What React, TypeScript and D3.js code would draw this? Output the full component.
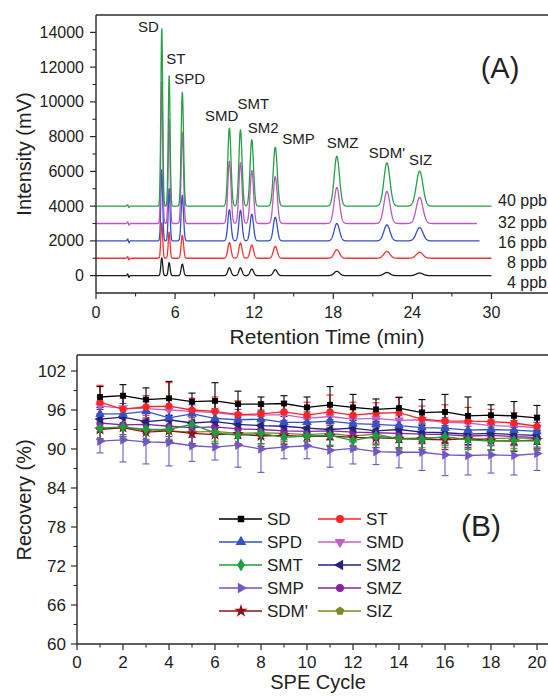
import React from 'react';
import * as d3 from 'd3';

const W = 548;
const H = 696;
const FONT = "'Liberation Sans', Arial, Helvetica, sans-serif";

// ---------- Panel A data (chromatograms) ----------
const peakNames = ['SD', 'ST', 'SPD', 'SMD', 'SMT', 'SM2', 'SMP', 'SMZ', "SDM'", 'SIZ'];
const retentionTimes = [4.99, 5.55, 6.55, 10.12, 10.96, 11.82, 13.6, 18.27, 22.07, 24.55];
const peakSigma = [0.07, 0.07, 0.09, 0.12, 0.12, 0.13, 0.15, 0.2, 0.23, 0.25];
const concLabels = ['4 ppb', '8 ppb', '16 ppb', '32 ppb', '40 ppb'];
const baselineOffsets = [0, 1000, 2000, 3000, 4000];
const traceEnds = [30, 30, 29.1, 28.9, 30];
const heights4 = [1020, 750, 660, 450, 440, 380, 340, 250, 180, 150];
const heights8 = [2040, 1500, 1310, 900, 880, 760, 680, 490, 390, 345];
const heights16 = [4080, 3000, 2620, 1790, 1760, 1530, 1360, 1000, 920, 770];
const heights32 = [8150, 6000, 5250, 3580, 3500, 3050, 2700, 2070, 1840, 1500];
const heights40 = [10200, 7500, 6550, 4480, 4390, 3820, 3390, 2870, 2490, 2010];
const disturbanceTime = 2.45;
const disturbanceAmp = [160, 150, 170, 150, 120];
const xTicksA = [0, 6, 12, 18, 24, 30];
const yTicksA = [0, 2000, 4000, 6000, 8000, 10000, 12000, 14000];

// ---------- Panel B data (recovery vs SPE cycle) ----------
const cycles = [1, 2, 3, 4, 5, 6, 7, 8, 9, 10, 11, 12, 13, 14, 15, 16, 17, 18, 19, 20];
const seriesNames = ['SD', 'ST', 'SPD', 'SMD', 'SMT', 'SM2', 'SMP', 'SMZ', "SDM'", 'SIZ'];
const SD = [98.0, 98.2, 97.6, 97.8, 97.3, 97.4, 96.9, 96.9, 97.0, 96.4, 96.8, 96.4, 96.1, 96.3, 95.6, 95.7, 95.1, 95.2, 95.1, 94.8];
const SD_err = [1.6, 1.7, 1.8, 2.6, 1.3, 2.8, 2.0, 1.1, 1.2, 1.6, 2.8, 2.0, 1.6, 1.6, 2.0, 2.7, 2.9, 1.6, 2.2, 1.9];
const ST = [97.2, 96.1, 96.5, 96.6, 96.0, 95.8, 95.3, 95.4, 95.7, 95.2, 95.7, 95.2, 95.5, 95.6, 94.6, 94.3, 94.3, 94.2, 94.0, 93.5];
const ST_err = [2.6, 2.1, 1.7, 3.6, 1.8, 2.2, 2.1, 1.8, 1.6, 2.0, 2.6, 2.0, 1.6, 2.4, 2.0, 2.5, 2.1, 1.9, 1.6, 1.7];
const SPD = [95.4, 95.4, 95.8, 94.8, 95.4, 94.7, 94.5, 94.6, 94.1, 94.1, 94.3, 93.9, 93.8, 93.6, 93.3, 93.2, 92.9, 93.0, 92.9, 92.7];
const SPD_err = [1.6, 1.6, 1.5, 1.7, 1.4, 1.5, 1.6, 1.4, 1.5, 1.6, 1.5, 1.4, 1.6, 1.5, 1.4, 1.6, 1.5, 1.4, 1.5, 1.4];
const SMD = [96.6, 96.3, 96.2, 96.0, 95.8, 95.6, 95.2, 95.2, 95.3, 94.7, 95.0, 94.6, 94.7, 94.4, 94.5, 94.1, 94.0, 93.6, 93.5, 93.3];
const SMD_err = [1.4, 1.5, 1.6, 1.8, 1.4, 1.6, 1.5, 1.4, 1.6, 1.5, 1.7, 1.5, 1.4, 1.6, 1.5, 1.6, 1.4, 1.5, 1.6, 1.4];
const SMT = [93.2, 93.4, 93.0, 93.0, 93.8, 92.5, 92.1, 92.4, 91.8, 92.0, 92.1, 91.3, 92.0, 91.6, 91.5, 91.9, 91.4, 91.2, 91.3, 91.2];
const SMT_err = [1.8, 1.5, 1.6, 1.5, 1.4, 1.6, 1.5, 1.6, 1.4, 1.5, 1.6, 1.5, 1.4, 1.5, 1.6, 1.4, 1.5, 1.4, 1.5, 1.4];
const SM2 = [94.6, 94.9, 94.2, 94.5, 94.0, 94.2, 93.8, 93.6, 93.5, 93.2, 93.0, 93.2, 92.8, 93.0, 92.6, 92.5, 92.3, 92.4, 92.2, 92.1];
const SM2_err = [1.5, 1.4, 1.6, 1.5, 1.4, 1.5, 1.6, 1.4, 1.5, 1.4, 1.5, 1.6, 1.4, 1.5, 1.4, 1.5, 1.6, 1.4, 1.5, 1.4];
const SMP = [91.2, 91.4, 91.1, 91.0, 90.5, 90.3, 90.6, 90.0, 90.3, 90.5, 89.8, 90.1, 89.6, 89.5, 89.5, 89.1, 89.0, 89.1, 89.0, 89.3];
const SMP_err = [1.8, 3.4, 3.4, 3.6, 2.4, 2.0, 3.4, 3.6, 1.8, 2.0, 2.6, 2.4, 2.0, 2.4, 2.8, 3.2, 3.0, 2.8, 3.0, 2.6];
const SMZ = [94.0, 93.7, 93.8, 93.5, 93.3, 93.4, 93.1, 93.0, 92.8, 92.7, 92.8, 92.6, 92.5, 92.4, 92.3, 92.2, 92.0, 92.1, 91.9, 91.8];
const SMZ_err = [1.4, 1.5, 1.4, 1.6, 1.5, 1.4, 1.5, 1.4, 1.6, 1.5, 1.4, 1.5, 1.6, 1.4, 1.5, 1.4, 1.5, 1.6, 1.4, 1.5];
const SDMp = [93.0, 93.3, 92.6, 92.8, 92.4, 92.2, 92.3, 92.0, 92.1, 91.9, 92.0, 91.8, 91.7, 91.6, 91.5, 91.4, 91.6, 91.3, 91.2, 91.4];
const SDMp_err = [1.5, 1.4, 1.6, 1.5, 1.6, 1.4, 1.5, 1.6, 1.4, 1.5, 1.6, 1.4, 1.5, 1.4, 1.6, 1.5, 1.4, 1.5, 1.6, 1.4];
const SIZ = [93.3, 93.2, 93.0, 92.8, 92.6, 92.7, 92.4, 92.5, 92.4, 92.2, 92.4, 92.0, 92.3, 91.6, 91.7, 91.8, 91.5, 91.6, 91.7, 91.6];
const SIZ_err = [1.7, 1.6, 1.5, 1.6, 1.8, 1.5, 1.6, 1.7, 1.5, 1.6, 1.8, 1.5, 1.6, 1.7, 1.5, 1.6, 1.5, 1.7, 1.6, 1.5];
const xTicksB = [0, 2, 4, 6, 8, 10, 12, 14, 16, 18, 20];
const yTicksB = [60, 66, 72, 78, 84, 90, 96, 102];

// ---------- styles / layout ----------
const traceColors = ['#1c1c1c', '#f23434', '#3550cc', '#c256c2', '#27a046'];
const seriesColors = ['#000000', '#ff2424', '#3452c4', '#c462c4', '#1d9e3e', '#23237e', '#7256c8', '#8722a0', '#8e1414', '#7d8a26'];
const seriesShapes = ['square', 'circle', 'up', 'down', 'diamond', 'left', 'right', 'circle', 'star', 'pentagon'];
// label offsets relative to the top of each 40 ppb peak: [dx, dy, anchor]
const labelOffsets: [number, number, string][] = [
  [-3, 3, 'end'], [-3, -12, 'start'], [-8, -8, 'start'], [9, -7, 'end'], [-3, -21, 'start'],
  [-4, -7, 'start'], [7, -3, 'start'], [-10, -8, 'start'], [0, -5, 'middle'], [1, -6, 'middle'],
];
// vertical centres (px) of the concentration labels at the right edge
const concLabelY = [282, 262, 242, 222, 200];

const xA = d3.scaleLinear().domain([0, 35.2]).range([96, 560]);
const yA = d3.scaleLinear().domain([-1000, 15000]).range([293, 15]);
const xB = d3.scaleLinear().domain([0, 20.5]).range([77, 548.5]);
const yB = d3.scaleLinear().domain([60, 104.46]).range([644, 355]);

function symbolD(shape: string, size: number): { d: string; rot: number } {
  switch (shape) {
    case 'square': return { d: d3.symbol(d3.symbolSquare, size * 0.85)() as string, rot: 0 };
    case 'circle': return { d: d3.symbol(d3.symbolCircle, size)() as string, rot: 0 };
    case 'up': return { d: d3.symbol(d3.symbolTriangle, size)() as string, rot: 0 };
    case 'down': return { d: d3.symbol(d3.symbolTriangle, size)() as string, rot: 180 };
    case 'left': return { d: d3.symbol(d3.symbolTriangle, size)() as string, rot: -90 };
    case 'right': return { d: d3.symbol(d3.symbolTriangle, size)() as string, rot: 90 };
    case 'diamond': return { d: d3.symbol(d3.symbolDiamond, size)() as string, rot: 0 };
    case 'star': return { d: d3.symbol(d3.symbolStar, size * 1.1)() as string, rot: 0 };
    case 'pentagon': {
      const r = Math.sqrt(size / 2.38);
      const pts = d3.range(5).map((i) => {
        const a = -Math.PI / 2 + (i * 2 * Math.PI) / 5;
        return [r * Math.cos(a), r * Math.sin(a)];
      });
      return { d: 'M' + pts.map((p) => p.join(',')).join('L') + 'Z', rot: 0 };
    }
    default: return { d: d3.symbol(d3.symbolCircle, size)() as string, rot: 0 };
  }
}

export default function App() {
  const heightTable = [heights4, heights8, heights16, heights32, heights40];
  const seriesVals = [SD, ST, SPD, SMD, SMT, SM2, SMP, SMZ, SDMp, SIZ];
  const seriesErr = [SD_err, ST_err, SPD_err, SMD_err, SMT_err, SM2_err, SMP_err, SMZ_err, SDMp_err, SIZ_err];

  const signal = (c: number, t: number) => {
    let v = baselineOffsets[c];
    const hs = heightTable[c];
    for (let i = 0; i < retentionTimes.length; i++) {
      const z = (t - retentionTimes[i]) / peakSigma[i];
      if (Math.abs(z) < 8) v += hs[i] * Math.exp(-0.5 * z * z);
    }
    const zd = (t - disturbanceTime) / 0.05;
    if (Math.abs(zd) < 8) v += disturbanceAmp[c] * -zd * Math.exp(-0.5 * zd * zd);
    return v;
  };

  const line = d3.line<[number, number]>().x((d) => xA(d[0])).y((d) => yA(d[1]));
  const traces = concLabels.map((_, c) => {
    const pts: [number, number][] = [];
    for (let t = 0; t <= traceEnds[c] + 1e-9; t += 0.01) pts.push([t, signal(c, t)]);
    return line(pts) as string;
  });

  const lineB = d3.line<number>().x((_, i) => xB(cycles[i])).y((d) => yB(d));

  const axisColor = '#2a2a2a';
  const tickFont = 16;

  const minorA = d3.range(0, 33, 3).filter((v) => !xTicksA.includes(v));
  const minorAy = d3.range(0, 15000, 1000).filter((v) => !yTicksA.includes(v));
  const minorBx = d3.range(1, 21, 2);
  const minorBy = d3.range(63, 104, 6);

  const drawOrder = d3.range(seriesNames.length).reverse();

  return (
    <svg width={W} height={H} style={{ position: 'absolute', left: 0, top: 0, background: '#fff' }} fontFamily={FONT}>
      <rect x={0} y={0} width={W} height={H} fill="#fff" />
      {/* ================= Panel A ================= */}
      <g>
        {traces.map((d, c) => (
          <path key={c} d={d} fill="none" stroke={traceColors[c]} strokeWidth={1.3} strokeLinejoin="round" />
        ))}
        <line x1={96} x2={W} y1={15} y2={15} stroke={axisColor} strokeWidth={1.4} />
        <line x1={96} x2={W} y1={293} y2={293} stroke={axisColor} strokeWidth={1.4} />
        <line x1={96} x2={96} y1={15} y2={293} stroke={axisColor} strokeWidth={1.4} />
        {xTicksA.map((v) => (
          <g key={v}>
            <line x1={xA(v)} x2={xA(v)} y1={293} y2={299} stroke={axisColor} strokeWidth={1.2} />
            <text x={xA(v)} y={318} fontSize={tickFont} textAnchor="middle" fill="#222">{v}</text>
          </g>
        ))}
        {minorA.map((v) => (
          <line key={v} x1={xA(v)} x2={xA(v)} y1={293} y2={296.5} stroke={axisColor} strokeWidth={1.1} />
        ))}
        {yTicksA.map((v) => (
          <g key={v}>
            <line x1={90} x2={96} y1={yA(v)} y2={yA(v)} stroke={axisColor} strokeWidth={1.2} />
            <text x={84} y={yA(v) + 5.6} fontSize={tickFont} textAnchor="end" fill="#222">{v}</text>
          </g>
        ))}
        {minorAy.map((v) => (
          <line key={v} x1={92.5} x2={96} y1={yA(v)} y2={yA(v)} stroke={axisColor} strokeWidth={1.1} />
        ))}
        <text x={327} y={344} fontSize={21} textAnchor="middle" fill="#222">Retention Time (min)</text>
        <text transform={`translate(31,${154}) rotate(-90)`} fontSize={20} textAnchor="middle" fill="#222">Intensity (mV)</text>
        <text x={500} y={78} fontSize={29} textAnchor="middle" fill="#222">(A)</text>
        {peakNames.map((n, i) => {
          const [dx, dy, anchor] = labelOffsets[i];
          const px = xA(retentionTimes[i]);
          const py = yA(baselineOffsets[4] + heights40[i]);
          return (
            <text key={n} x={px + dx} y={py + dy} fontSize={15} textAnchor={anchor as any} fill="#222">{n}</text>
          );
        })}
        {concLabels.map((l, c) => (
          <text key={l} x={547} y={concLabelY[c] + 5.8} fontSize={16} textAnchor="end" fill="#222">{l}</text>
        ))}
      </g>

      {/* ================= Panel B ================= */}
      <g>
        {drawOrder.map((s) => (
          <g key={'e' + s} stroke={seriesColors[s]} strokeWidth={1.1}>
            {seriesVals[s].map((v, i) => {
              const x = xB(cycles[i]);
              const y1 = yB(v + seriesErr[s][i]);
              const y2 = yB(v - seriesErr[s][i]);
              return (
                <g key={i}>
                  <line x1={x} x2={x} y1={y1} y2={y2} />
                  <line x1={x - 3.5} x2={x + 3.5} y1={y1} y2={y1} />
                  <line x1={x - 3.5} x2={x + 3.5} y1={y2} y2={y2} />
                </g>
              );
            })}
          </g>
        ))}
        {drawOrder.map((s) => {
          const sym = symbolD(seriesShapes[s], 40);
          return (
            <g key={'l' + s}>
              <path d={lineB(seriesVals[s]) as string} fill="none" stroke={seriesColors[s]} strokeWidth={1.3} />
              {seriesVals[s].map((v, i) => (
                <path key={i} d={sym.d} transform={`translate(${xB(cycles[i])},${yB(v)}) rotate(${sym.rot})`} fill={seriesColors[s]} />
              ))}
            </g>
          );
        })}
        <line x1={77} x2={W} y1={355} y2={355} stroke={axisColor} strokeWidth={1.4} />
        <line x1={77} x2={W} y1={644} y2={644} stroke={axisColor} strokeWidth={1.4} />
        <line x1={77} x2={77} y1={355} y2={644} stroke={axisColor} strokeWidth={1.4} />
        {xTicksB.map((v) => (
          <g key={v}>
            <line x1={xB(v)} x2={xB(v)} y1={644} y2={650} stroke={axisColor} strokeWidth={1.2} />
            <text x={xB(v)} y={668} fontSize={17} textAnchor="middle" fill="#222">{v}</text>
          </g>
        ))}
        {minorBx.map((v) => (
          <line key={v} x1={xB(v)} x2={xB(v)} y1={644} y2={647.5} stroke={axisColor} strokeWidth={1.1} />
        ))}
        {yTicksB.map((v) => (
          <g key={v}>
            <line x1={71} x2={77} y1={yB(v)} y2={yB(v)} stroke={axisColor} strokeWidth={1.2} />
            <text x={66} y={yB(v) + 6} fontSize={17} textAnchor="end" fill="#222">{v}</text>
          </g>
        ))}
        {minorBy.map((v) => (
          <line key={v} x1={73.5} x2={77} y1={yB(v)} y2={yB(v)} stroke={axisColor} strokeWidth={1.1} />
        ))}
        <text x={318} y={689} fontSize={20} textAnchor="middle" fill="#222">SPE Cycle</text>
        <text transform={`translate(31,${500}) rotate(-90)`} fontSize={20} textAnchor="middle" fill="#222">Recovery (%)</text>
        <text x={481} y={536} fontSize={30} textAnchor="middle" fill="#222">(B)</text>
        {seriesNames.map((n, s) => {
          const col = s % 2;
          const row = Math.floor(s / 2);
          const lx = col === 0 ? 219 : 318;
          const ly = 519 + row * 23;
          const sym = symbolD(seriesShapes[s], 50);
          return (
            <g key={n}>
              <line x1={lx} x2={lx + 43} y1={ly} y2={ly} stroke={seriesColors[s]} strokeWidth={1.4} />
              <path d={sym.d} transform={`translate(${lx + 22},${ly}) rotate(${sym.rot})`} fill={seriesColors[s]} />
              <text x={lx + 48} y={ly + 6} fontSize={17} fill="#222">{n}</text>
            </g>
          );
        })}
      </g>
    </svg>
  );
}
